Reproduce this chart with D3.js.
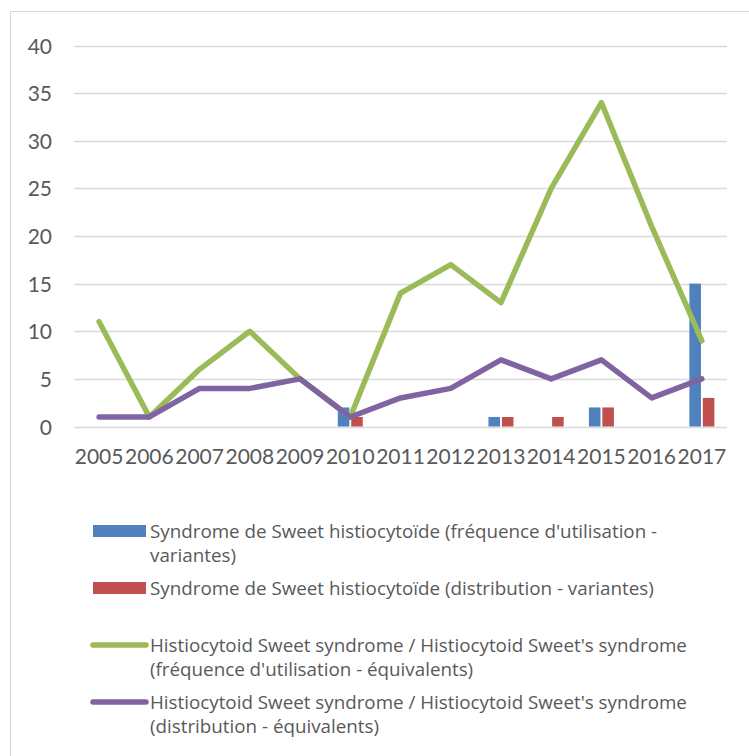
<!DOCTYPE html>
<html>
<head>
<meta charset="utf-8">
<script src="https://cdn.jsdelivr.net/npm/d3@7"></script>
<style>
  html, body { margin: 0; padding: 0; background: #fff; }
  svg { display: block; }
  text { font-family: Lato, "Liberation Sans", sans-serif; fill: #595959; }
</style>
</head>
<body>
<svg id="chart" width="749" height="756"></svg>
<script>
const years = ["2005","2006","2007","2008","2009","2010","2011","2012","2013","2014","2015","2016","2017"];
const blueBars  = [0, 0, 0, 0, 0, 2, 0, 0, 1, 0, 2, 0, 15];
const redBars   = [0, 0, 0, 0, 0, 1, 0, 0, 1, 1, 2, 0, 3];
const greenLine = [11, 1, 6, 10, 5, 1, 14, 17, 13, 25, 34, 21, 9];
const purpleLine = [1, 1, 4, 4, 5, 1, 3, 4, 7, 5, 7, 3, 5];
const yTicks = [0, 5, 10, 15, 20, 25, 30, 35, 40];
const legendItems = [
  { key: "blue", kind: "bar", lines: ["Syndrome de Sweet histiocytoïde (fréquence d'utilisation -", "variantes)"] },
  { key: "red", kind: "bar", lines: ["Syndrome de Sweet histiocytoïde (distribution - variantes)"] },
  { key: "green", kind: "line", lines: ["Histiocytoid Sweet syndrome / Histiocytoid Sweet's syndrome", "(fréquence d'utilisation - équivalents)"] },
  { key: "purple", kind: "line", lines: ["Histiocytoid Sweet syndrome / Histiocytoid Sweet's syndrome", "(distribution - équivalents)"] }
];

const colors = { blue: "#4F81BD", red: "#C0504D", green: "#9BBB59", purple: "#8064A2" };

const svg = d3.select("#chart");

// outer frame
svg.append("rect")
  .attr("x", 10.5).attr("y", 11.5)
  .attr("width", 900).attr("height", 900)
  .attr("fill", "none").attr("stroke", "#D9D9D9").attr("stroke-width", 1);

const x = d3.scaleBand().domain(years).range([74, 727]).padding(0);
const y = d3.scaleLinear().domain([0, 40]).range([426.5, 45.5]);
const sub = d3.scaleBand().domain(["blue", "red"]).range([-12.5, 12.5]).paddingInner(0.14);

// gridlines
svg.append("g").selectAll("line").data(yTicks).join("line")
  .attr("x1", 74).attr("x2", 727)
  .attr("y1", d => Math.round(y(d)) + 0.5).attr("y2", d => Math.round(y(d)) + 0.5)
  .attr("stroke", "#D9D9D9").attr("stroke-width", 1.3);

// y axis labels
const yAxis = d3.axisLeft(y).tickValues(yTicks).tickSize(0).tickPadding(0);
const gy = svg.append("g").attr("transform", "translate(52,0)").call(yAxis);
gy.select(".domain").remove();
gy.selectAll("text").attr("font-size", 21).attr("fill", "#595959")
  .style("font-family", "Lato, 'Liberation Sans', sans-serif").attr("dy", "0.36em");

// x axis labels
const xAxis = d3.axisBottom(x).tickSize(0).tickPadding(0);
const gx = svg.append("g").attr("transform", "translate(0,449)").call(xAxis);
gx.select(".domain").remove();
gx.selectAll("text").attr("font-size", 21).attr("fill", "#595959")
  .style("font-family", "Lato, 'Liberation Sans', sans-serif").attr("dy", "0.72em");

// bars
const barData = [];
years.forEach((yr, i) => {
  if (blueBars[i] > 0) barData.push({ yr, key: "blue", v: blueBars[i] });
  if (redBars[i] > 0) barData.push({ yr, key: "red", v: redBars[i] });
});
svg.append("g").selectAll("rect").data(barData).join("rect")
  .attr("x", d => x(d.yr) + x.bandwidth() / 2 + sub(d.key))
  .attr("width", sub.bandwidth())
  .attr("y", d => y(d.v))
  .attr("height", d => y(0) - y(d.v))
  .attr("fill", d => colors[d.key]);

// lines
const line = d3.line().x((d, i) => x(years[i]) + x.bandwidth() / 2).y(d => y(d));
[["green", greenLine], ["purple", purpleLine]].forEach(([k, data]) => {
  svg.append("path").datum(data)
    .attr("d", line)
    .attr("fill", "none")
    .attr("stroke", colors[k])
    .attr("stroke-width", 5.5)
    .attr("stroke-linecap", "round")
    .attr("stroke-linejoin", "round");
});

// legend
const legendY = [531, 588, 645, 702];
const lineGap = 24;
const lg = svg.append("g");
legendItems.forEach((item, i) => {
  const cy = legendY[i];
  if (item.kind === "bar") {
    lg.append("rect").attr("x", 93).attr("y", cy - 6).attr("width", 53).attr("height", 12)
      .attr("fill", colors[item.key]);
  } else {
    lg.append("line").attr("x1", 93).attr("x2", 146).attr("y1", cy).attr("y2", cy)
      .attr("stroke", colors[item.key]).attr("stroke-width", 5.5).attr("stroke-linecap", "round");
  }
  item.lines.forEach((t, j) => {
    lg.append("text").attr("x", 150).attr("y", cy + j * lineGap).attr("dy", "0.36em")
      .attr("font-size", 18.8).style("font-family", "'Open Sans', Lato, sans-serif").text(t);
  });
});
</script>
</body>
</html>
